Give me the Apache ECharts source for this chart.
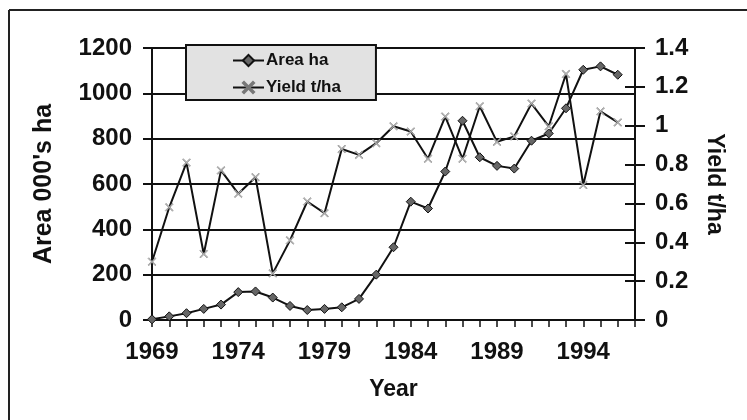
<!DOCTYPE html>
<html>
<head>
<meta charset="utf-8">
<script src="https://cdn.jsdelivr.net/npm/echarts@6/dist/echarts.min.js"></script>
<style>
  html, body { margin: 0; padding: 0; background: #fff; }
  #chart { width: 747px; height: 420px; }
</style>
</head>
<body>
<div id="chart"></div>
<script>
// data
var years = [1969, 1970, 1971, 1972, 1973, 1974, 1975, 1976, 1977, 1978,
    1979, 1980, 1981, 1982, 1983, 1984, 1985, 1986, 1987, 1988,
    1989, 1990, 1991, 1992, 1993, 1994, 1995, 1996];
var areaHa = [3, 16, 30, 49, 68, 123, 126, 99, 62, 44,
    49, 56, 93, 200, 321, 522, 492, 655, 879, 718,
    680, 668, 791, 823, 934, 1104, 1119, 1082];
var yieldTha = [0.30, 0.58, 0.81, 0.34, 0.77, 0.65, 0.735, 0.24, 0.41, 0.61,
    0.55, 0.88, 0.85, 0.91, 0.997, 0.97, 0.83, 1.047, 0.83, 1.10,
    0.917, 0.945, 1.114, 0.997, 1.266, 0.695, 1.074, 1.017];
var yearLabels = [1969, 1974, 1979, 1984, 1989, 1994];

var font = 'Liberation Sans';
var crossSymbol = 'path://M0,1L1,0L5,4L9,0L10,1L6,5L10,9L9,10L5,6L1,10L0,9L4,5Z';

function pairs(vals) {
    return years.map(function (y, i) { return [y, vals[i]]; });
}

var myChart = echarts.init(document.getElementById('chart'));

var option = {
    backgroundColor: '#fff',
    animation: false,
    textStyle: { fontFamily: font, fontWeight: 'bold', color: '#111' },
    grid: { left: 152, right: 112, top: 48, bottom: 100 },
    legend: {
        orient: 'vertical',
        left: 186,
        top: 45,
        padding: [7, 35, 4, 46],
        itemWidth: 31,
        itemHeight: 14,
        itemGap: 10,
        backgroundColor: '#e2e2e2',
        borderColor: '#111',
        borderWidth: 2,
        borderRadius: 0,
        textStyle: { fontFamily: font, fontWeight: 'bold', fontSize: 17, lineHeight: 17, color: '#111', padding: [0, 0, 0, -3] },
        data: ['Area ha', 'Yield t/ha']
    },
    xAxis: {
        type: 'value',
        min: 1969,
        max: 1997,
        interval: 1,
        name: 'Year',
        nameLocation: 'middle',
        nameGap: 58,
        nameTextStyle: { fontFamily: font, fontWeight: 'bold', fontSize: 23, color: '#111' },
        axisLine: { lineStyle: { color: '#111', width: 2 } },
        axisTick: { inside: false, length: 7, lineStyle: { color: '#111', width: 1.5 } },
        axisLabel: {
            margin: 20,
            fontSize: 24,
            fontWeight: 'bold',
            fontFamily: font,
            color: '#111',
            formatter: function (v) {
                return yearLabels.indexOf(v) >= 0 ? String(v) : '';
            }
        },
        splitLine: { show: false }
    },
    yAxis: [{
        type: 'value',
        position: 'left',
        min: 0,
        max: 1200,
        interval: 200,
        name: "Area 000's ha",
        nameLocation: 'middle',
        nameGap: 95,
        nameRotate: 90,
        nameTextStyle: { fontFamily: font, fontWeight: 'bold', fontSize: 25, color: '#111' },
        axisLine: { show: true, lineStyle: { color: '#111', width: 2 } },
        axisTick: { show: true, inside: false, length: 9, lineStyle: { color: '#111', width: 2 } },
        axisLabel: {
            margin: 20, fontSize: 24, fontWeight: 'bold', fontFamily: font, color: '#111',
            formatter: function (v) { return String(v); }
        },
        splitLine: { show: true, lineStyle: { color: '#111', width: 2 } }
    }, {
        type: 'value',
        position: 'right',
        min: 0,
        max: 1.4,
        interval: 0.2,
        name: 'Yield t/ha',
        nameLocation: 'middle',
        nameGap: 68,
        nameRotate: -90,
        nameTextStyle: { fontFamily: font, fontWeight: 'bold', fontSize: 23, color: '#111' },
        axisLine: { show: true, lineStyle: { color: '#111', width: 2 } },
        axisTick: { show: true, inside: false, length: 10, lineStyle: { color: '#111', width: 2 } },
        axisLabel: {
            margin: 20, fontSize: 24, fontWeight: 'bold', fontFamily: font, color: '#111',
            formatter: function (v) { return String(+v.toFixed(1)); }
        },
        splitLine: { show: false }
    }, {
        // same scale again, only to draw the inner half of the crossing ticks
        type: 'value',
        position: 'right',
        min: 0,
        max: 1.4,
        interval: 0.2,
        axisLine: { show: false },
        axisTick: { show: true, inside: true, length: 10, lineStyle: { color: '#111', width: 2 } },
        axisLabel: { show: false },
        splitLine: { show: false }
    }],
    series: [{
        name: 'Area ha',
        type: 'line',
        yAxisIndex: 0,
        data: pairs(areaHa),
        symbol: 'diamond',
        symbolSize: 9,
        itemStyle: { color: '#666', borderColor: '#111', borderWidth: 1 },
        lineStyle: { color: '#111', width: 2 },
        z: 3
    }, {
        name: 'Yield t/ha',
        type: 'line',
        yAxisIndex: 1,
        data: pairs(yieldTha),
        symbol: crossSymbol,
        symbolSize: 8,
        itemStyle: { color: '#bbb', borderColor: '#777', borderWidth: 0.5 },
        lineStyle: { color: '#111', width: 2 },
        z: 4
    }],
    graphic: [{
        type: 'line',
        shape: { x1: 9, y1: 10, x2: 747, y2: 10 },
        style: { stroke: '#222', lineWidth: 2 }
    }, {
        type: 'line',
        shape: { x1: 9, y1: 10, x2: 9, y2: 420 },
        style: { stroke: '#222', lineWidth: 2 }
    }]
};

myChart.setOption(option);
</script>
</body>
</html>
